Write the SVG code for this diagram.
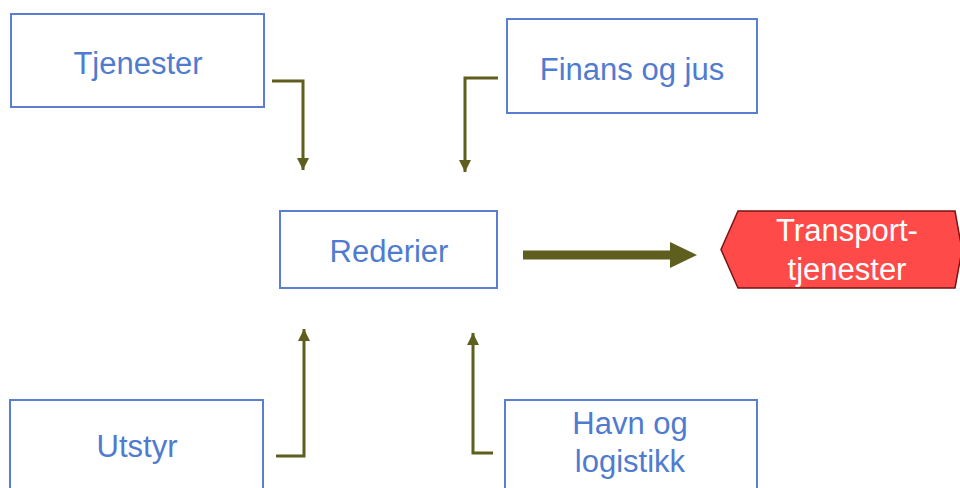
<svg xmlns="http://www.w3.org/2000/svg" width="960" height="488" viewBox="0 0 960 488">
<defs>
<style>
.box{fill:#fff;stroke:#5a7fd0;stroke-width:2}
.lbl{font-family:"Liberation Sans",Arial,sans-serif;font-size:31px;fill:#4f7bd0;text-anchor:middle}
.con{fill:none;stroke:#5e5e1f;stroke-width:3}
.wl{font-family:"Liberation Sans",Arial,sans-serif;font-size:31px;fill:#fff;text-anchor:middle}
</style>
<marker id="ah" viewBox="0 0 10 10" refX="10" refY="5" markerWidth="4" markerHeight="4" orient="auto" markerUnits="strokeWidth">
<path d="M0,0L10,5L0,10z" fill="#5e5e1f"/>
</marker>
</defs>
<rect width="960" height="488" fill="#fff"/>
<g id="connectors">
<polyline class="con" points="272,81 303,81 303,170" marker-end="url(#ah)"/>
<polyline class="con" points="498,78 465,78 465,172" marker-end="url(#ah)"/>
<polyline class="con" points="276,456 304,456 304,329" marker-end="url(#ah)"/>
<polyline class="con" points="493,453 473,453 473,333" marker-end="url(#ah)"/>
<path d="M523,250.5H670V242L697,255L670,268V259.5H523Z" fill="#5e5e1f"/>
</g>
<g id="tjenester">
<rect class="box" x="11" y="14" width="253" height="93"/>
<text class="lbl" x="138" y="74">Tjenester</text>
</g>
<g id="finans">
<rect class="box" x="507" y="19" width="250" height="94"/>
<text class="lbl" x="632" y="80">Finans og jus</text>
</g>
<g id="rederier">
<rect class="box" x="280" y="211" width="217" height="77"/>
<text class="lbl" x="389" y="262">Rederier</text>
</g>
<g id="utstyr">
<rect class="box" x="10" y="400" width="253" height="100"/>
<text class="lbl" x="137" y="457">Utstyr</text>
</g>
<g id="havn">
<rect class="box" x="505" y="400" width="252" height="100"/>
<text class="lbl" x="630" y="434">Havn og</text>
<text class="lbl" x="630" y="472">logistikk</text>
</g>
<g id="transport">
<path d="M738,211H955L962,250L955,288H738L721,249.5Z" fill="#ff4a4a" stroke="#7a1212" stroke-width="1.5"/>
<text class="wl" x="847" y="241">Transport-</text>
<text class="wl" x="847" y="280">tjenester</text>
</g>
</svg>
